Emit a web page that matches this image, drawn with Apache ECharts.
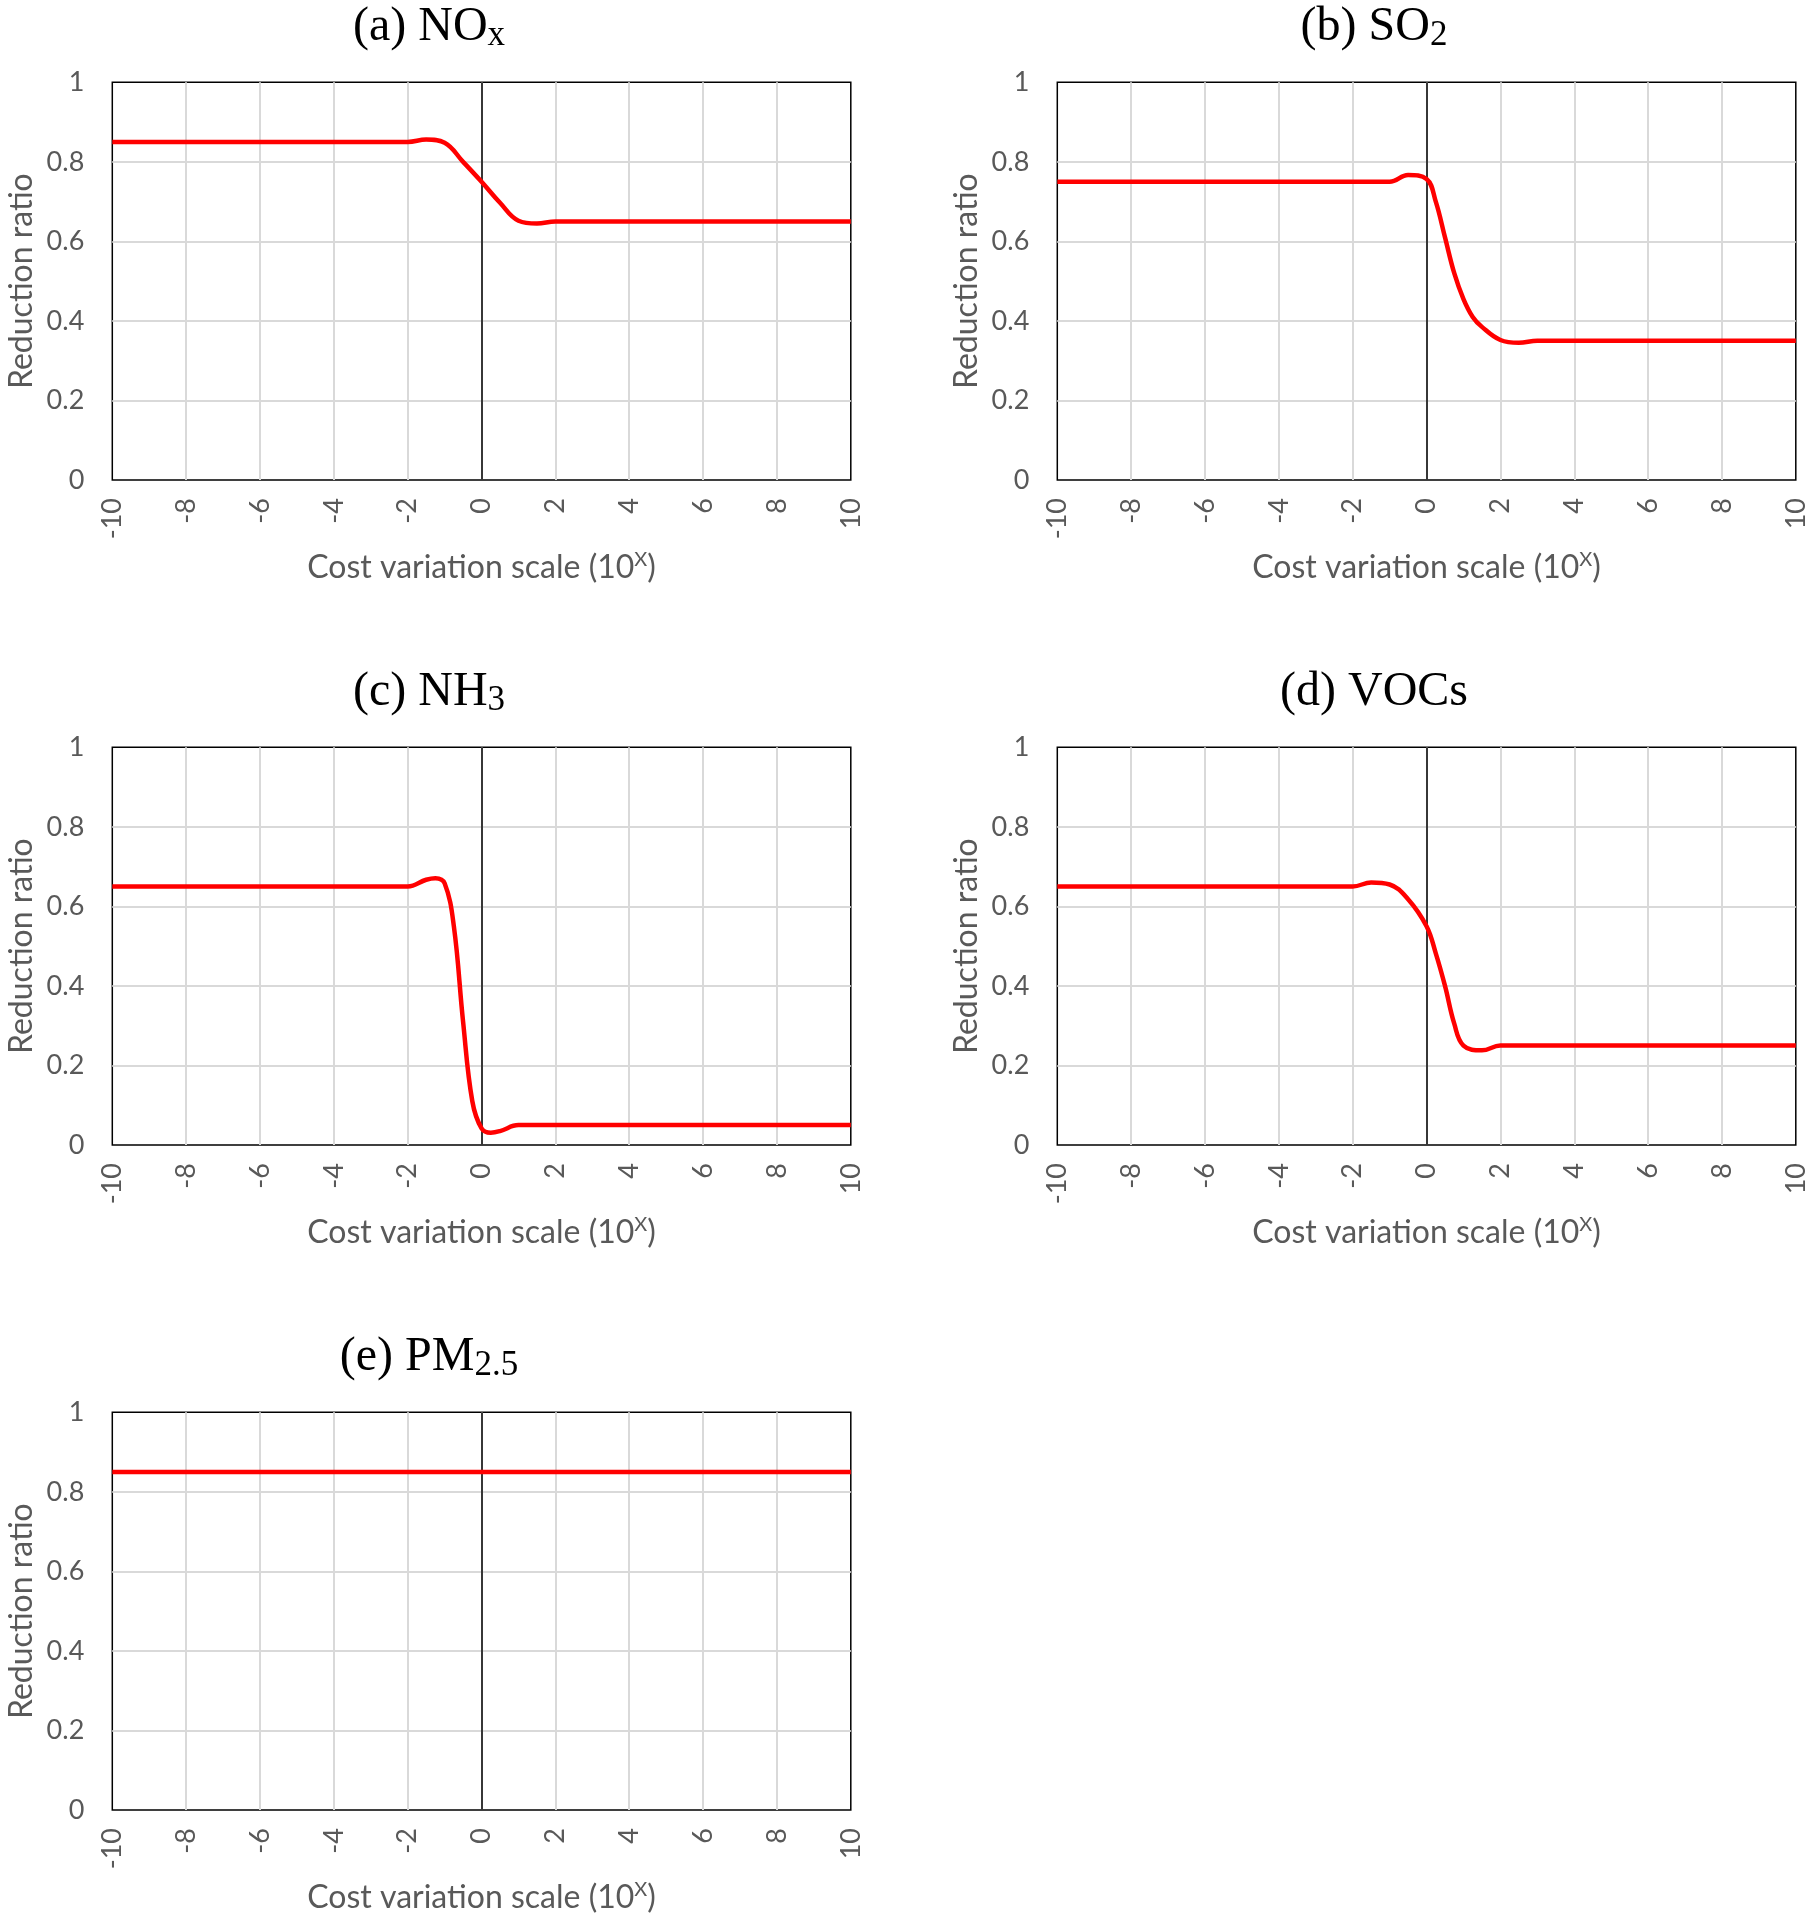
<!DOCTYPE html>
<html>
<head>
<meta charset="utf-8">
<script src="https://cdn.jsdelivr.net/npm/echarts@6/dist/echarts.min.js"></script>
<style>
html,body{margin:0;padding:0;background:#fff;}
#chart{width:1813px;height:1920px;}
</style>
</head>
<body>
<div id="chart"></div>
<script>
// ---- data ----
const noxX  = [-10,-8,-6,-4,-2,-1.5,-1,-0.5,0,0.5,1,1.5,2,4,6,8,10];
const noxY  = [0.85,0.85,0.85,0.85,0.85,0.856,0.848,0.80,0.75,0.697,0.652,0.645,0.65,0.65,0.65,0.65,0.65];
const so2X  = [-10,-8,-6,-4,-2,-1,-0.5,0,0.25,0.5,0.75,1,1.25,1.5,2,2.5,3,4,6,8,10];
const so2Y  = [0.75,0.75,0.75,0.75,0.75,0.75,0.767,0.757,0.70,0.61,0.52,0.455,0.41,0.385,0.352,0.345,0.35,0.35,0.35,0.35,0.35];
const nh3X  = [-10,-8,-6,-4,-2,-1.5,-1.25,-1,-0.75,-0.5,-0.25,0,0.25,0.5,1,2,4,6,8,10];
const nh3Y  = [0.65,0.65,0.65,0.65,0.65,0.667,0.671,0.658,0.55,0.31,0.11,0.042,0.031,0.035,0.05,0.05,0.05,0.05,0.05,0.05];
const vocsX = [-10,-8,-6,-4,-2,-1.5,-1,-0.5,0,0.25,0.5,0.75,1,1.5,2,4,6,8,10];
const vocsY = [0.65,0.65,0.65,0.65,0.65,0.66,0.655,0.618,0.55,0.482,0.40,0.305,0.25,0.238,0.25,0.25,0.25,0.25,0.25];
const pm25X = [-10,-8,-6,-4,-2,0,2,4,6,8,10];
const pm25Y = [0.85,0.85,0.85,0.85,0.85,0.85,0.85,0.85,0.85,0.85,0.85];

const panelTitles = [['(a) NO','x'],['(b) SO','2'],['(c) NH','3'],['(d) VOCs',''],['(e) PM','2.5']];
const xAxisTitle = ['Cost variation scale (10','X',')'];
const yAxisTitle = 'Reduction ratio';
const xTicks = {min:-10, max:10, interval:2};
const yTicks = {min:0, max:1, interval:0.2};

const seriesXs = [noxX, so2X, nh3X, vocsX, pm25X];
const seriesYs = [noxY, so2Y, nh3Y, vocsY, pm25Y];

// ---- layout ----
const panelW = 738.5, panelH = 397.7;
const colLeft = [112.3, 1057.3];
const rowTop = [82.3, 747.3, 1412.3];
const panelPos = [[0,0],[1,0],[0,1],[1,1],[0,2]];
const gray = '#595959';
const sansFont = 'Lato';

const chart = echarts.init(document.getElementById('chart'), null, {renderer:'canvas'});

const grids = [], xAxes = [], yAxes = [], series = [], graphics = [];
panelPos.forEach((p, i) => {
  const left = colLeft[p[0]], top = rowTop[p[1]];
  grids.push({left:left, top:top, width:panelW, height:panelH, show:true,
    borderColor:'#000', borderWidth:1.5, backgroundColor:'transparent', containLabel:false});
  xAxes.push({
    type:'value', gridIndex:i, min:xTicks.min, max:xTicks.max, interval:xTicks.interval,
    axisLine:{show:false}, axisTick:{show:false},
    splitLine:{show:true, showMinLine:false, showMaxLine:false, lineStyle:{color:'#d9d9d9', width:2}},
    axisLabel:{rotate:90, margin:18, color:gray, fontSize:27, fontFamily:sansFont},
    name:'{t|' + xAxisTitle[0] + '}{p|' + xAxisTitle[1] + '}{t|' + xAxisTitle[2] + '}',
    nameLocation:'middle', nameGap:70,
    nameTextStyle:{color:gray, fontFamily:sansFont, fontSize:32,
      rich:{t:{color:gray, fontFamily:sansFont, fontSize:32, lineHeight:35},
            p:{color:gray, fontFamily:sansFont, fontSize:20, lineHeight:20, verticalAlign:'top'}}}
  });
  yAxes.push({
    type:'value', gridIndex:i, min:yTicks.min, max:yTicks.max, interval:yTicks.interval,
    axisLine:{show:false}, axisTick:{show:false},
    splitLine:{show:true, showMinLine:false, showMaxLine:false, lineStyle:{color:'#d9d9d9', width:2}},
    axisLabel:{margin:28, color:gray, fontSize:27, fontFamily:sansFont},
    name:yAxisTitle, nameLocation:'middle', nameGap:75,
    nameTextStyle:{color:gray, fontFamily:sansFont, fontSize:32}
  });
  const xs = seriesXs[i], ys = seriesYs[i];
  series.push({
    type:'line', xAxisIndex:i, yAxisIndex:i,
    data:xs.map((x, k) => [x, ys[k]]),
    smooth:0.4, showSymbol:false, symbol:'none',
    lineStyle:{color:'#ff0000', width:4.5}, z:3,
    markLine:{silent:true, symbol:'none', z:1, animation:false,
      label:{show:false}, lineStyle:{color:'#000', width:1.5, type:'solid'},
      data:[{xAxis:0}]}
  });
  const t = panelTitles[i];
  graphics.push({
    type:'text',
    x: left + 316.7,
    y: top - 82.3 + 27.5,
    style:{
      text:'{m|' + t[0] + '}' + (t[1] ? '{s|' + t[1] + '}' : ''),
      align:'center', verticalAlign:'middle',
      fill:'#000',
      rich:{
        m:{fontFamily:'Liberation Serif', fontSize:48, lineHeight:52, fill:'#000'},
        s:{fontFamily:'Liberation Serif', fontSize:35, lineHeight:40, verticalAlign:'bottom', fill:'#000'}
      }
    }
  });
});

chart.setOption({
  animation:false,
  backgroundColor:'#fff',
  grid:grids, xAxis:xAxes, yAxis:yAxes, series:series,
  graphic:graphics
});
</script>
</body>
</html>
